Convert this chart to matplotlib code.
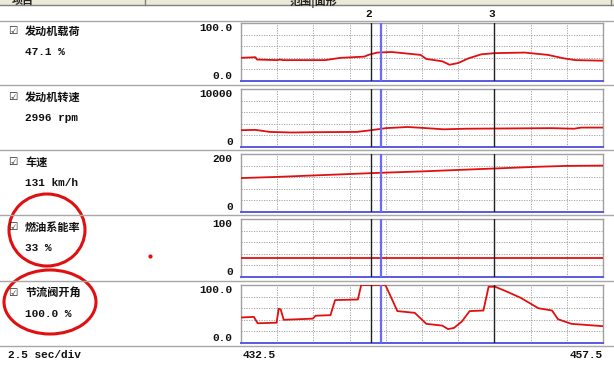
import matplotlib.pyplot as plt
from matplotlib.patches import Ellipse, Rectangle
from matplotlib.transforms import blended_transform_factory

plt.rcParams['font.family'] = ['Noto Sans CJK SC', 'DejaVu Sans']

# time axis (sec)
t_start = 432.5
t_end = 457.5
cursor_2 = 441.5
cursor_3 = 450.0
cursor_blue = 442.15

# engine load (%)
load_t = [432.5, 433.5, 433.6, 435.0, 435.2, 435.4, 438.3, 439.4, 441.0, 441.3, 441.9, 442.9,
          444.9, 445.3, 446.4, 446.9, 447.5, 448.2, 449.1, 450.0, 452.1, 453.7, 454.8, 455.6, 457.5]
load_v = [40, 41, 37, 36, 37, 36, 36, 40, 42, 45, 49, 50,
          45, 38, 34, 28, 31, 39, 46, 48, 49, 45, 39, 36, 35]

# engine speed (rpm)
rpm_t = [432.5, 433.5, 434.5, 436.0, 437.5, 440.5, 441.5, 442.5, 444.0, 445.0, 446.5, 448.0,
         451.0, 454.0, 455.5, 456.0, 457.5]
rpm_v = [2900, 2950, 2600, 2500, 2550, 2600, 2900, 3250, 3450, 3300, 3050, 3150,
         3200, 3250, 3150, 3350, 3350]

# vehicle speed (km/h)
spd_t = [432.5, 435.0, 438.0, 441.0, 442.0, 445.0, 448.0, 450.0, 453.0, 455.0, 457.5]
spd_v = [117, 121, 127, 133, 135, 140, 146, 150, 156, 159, 160]

# fuel rate (%)
fuel_t = [432.5, 457.5]
fuel_v = [33, 33]

# throttle opening (%)
thr_t = [432.5, 433.39, 433.65, 434.96, 435.10, 435.24, 435.45, 437.46, 437.65, 438.68, 438.85,
         439.0, 440.57, 440.8, 442.47, 442.75, 443.3, 444.50, 445.3, 446.40, 446.8, 447.21,
         447.75, 448.29, 449.24, 449.6, 450.05, 450.73, 451.81, 453.03, 453.98, 454.39, 455.33,
         456.42, 457.5]
thr_v = [44, 45, 34, 35, 59, 58, 40, 42, 47, 48, 62,
         74, 75, 100, 100, 85, 55, 52, 33, 30, 24, 26,
         37, 55, 56, 97, 97, 90, 78, 60, 56, 41, 33,
         31, 29]

names = ['发动机载荷', '发动机转速', '车速', '燃油系能率', '节流阀开角']
readings = ['47.1 %', '2996 rpm', '131 km/h', '33 %', '100.0 %']
y_max = [100, 10000, 200, 100, 100]
y_labels = [('0.0', '100.0'), ('0', '10000'), ('0', '200'), ('0', '100'), ('0.0', '100.0')]
series = [(load_t, load_v), (rpm_t, rpm_v), (spd_t, spd_v), (fuel_t, fuel_v), (thr_t, thr_v)]

W, H = 614, 365
fig = plt.figure(figsize=(W / 100, H / 100), dpi=100)
fig.patch.set_facecolor('white')

panel_tops = [23, 89, 154, 219, 285]
panel_h = 58
box_left, box_right = 241, 603
num_font = dict(family='Liberation Mono', fontweight='bold', fontsize=8, color='#111111')

for i in range(5):
    top = panel_tops[i]
    ax = fig.add_axes([box_left / W, 1 - (top + panel_h) / H, (box_right - box_left) / W, panel_h / H])
    ax.set_xlim(t_start, t_end)
    ax.set_ylim(0, y_max[i])
    tt, vv = series[i]
    ax.plot(tt, vv, color='#e01010', lw=1.3, zorder=3, clip_on=True)
    for k in range(1, 10):
        ax.axvline(t_start + k * 2.5, color='#9a9a9a', lw=0.6, ls=(0, (1.5, 1.5)), zorder=1)
    for k in range(1, 5):
        ax.axhline(y_max[i] * k / 5, color='#9a9a9a', lw=0.6, ls=(0, (1.5, 1.5)), zorder=1)
    ax.axvline(cursor_2, color='#202020', lw=1.0, zorder=4)
    ax.axvline(cursor_3, color='#202020', lw=1.0, zorder=4)
    ax.axvline(cursor_blue, color='#6a6aff', lw=1.6, zorder=4)
    for s in ['top', 'left', 'right']:
        ax.spines[s].set_color('#a0a0a0')
        ax.spines[s].set_linewidth(1.0)
    ax.spines['bottom'].set_color('#5a5ae0')
    ax.spines['bottom'].set_linewidth(1.4)
    ax.set_xticks([])
    ax.set_yticks([0, y_max[i]])
    labs = ax.set_yticklabels(y_labels[i], **num_font)
    labs[0].set_va('bottom')
    labs[1].set_va('top')
    ax.tick_params(axis='y', length=0, pad=6)
    if i == 0:
        tr = blended_transform_factory(ax.transData, ax.transAxes)
        ax.text(cursor_2 - 0.2, 1.16, '2', transform=tr, ha='center', va='center', **num_font)
        ax.text(cursor_3 - 0.2, 1.16, '3', transform=tr, ha='center', va='center', **num_font)

# overlay in pixel coordinates for the surrounding frame and annotations
ov = fig.add_axes([0, 0, 1, 1], zorder=10)
ov.set_xlim(0, W)
ov.set_ylim(H, 0)
ov.axis('off')
ov.patch.set_alpha(0)

# header strip (text is cut off at the top like the screenshot)
ov.add_patch(Rectangle((0, 0), W, 5, facecolor='#ece9d8', edgecolor='none'))
ov.plot([0, W], [5, 5], color='#808080', lw=1.0)
ov.plot([145, 145], [0, 5], color='#808080', lw=1.0)
ov.plot([611, 611], [0, 5], color='#808080', lw=1.0)
ov.text(12, 0.5, '项目', ha='left', va='center', fontsize=8, fontweight='bold', color='#222222')
ov.text(290, 0.5, '范围|面形', ha='left', va='center', fontsize=8, fontweight='bold', color='#222222')
ov.plot([0, W], [21, 21], color='#a8a8a8', lw=1.0)

for y in [85, 150, 215, 281, 346]:
    ov.plot([0, W], [y, y], color='#a8a8a8', lw=1.0)

for i in range(5):
    top = panel_tops[i]
    ov.text(8, top + 8, '☑', ha='left', va='center', fontsize=7.5, family='DejaVu Sans', color='#222222')
    ov.text(25, top + 8.5, names[i], ha='left', va='center', fontsize=8, fontweight='bold', color='#111111')
    ov.text(25, top + 29, readings[i], ha='left', va='center', **num_font)

ov.text(8, 355, '2.5 sec/div', ha='left', va='center', **num_font)
ov.text(243, 355, '432.5', ha='left', va='center', **num_font)
ov.text(603, 355, '457.5', ha='right', va='center', **num_font)

# hand drawn red marks
ov.add_patch(Ellipse((47, 230), 76, 72, fill=False, edgecolor='#e01010', lw=2.2))
ov.add_patch(Ellipse((50, 302), 92, 64, fill=False, edgecolor='#e01010', lw=2.2))
ov.plot([150], [256], 'o', color='#e01010', ms=2)

fig.savefig('out.png', dpi=100)
